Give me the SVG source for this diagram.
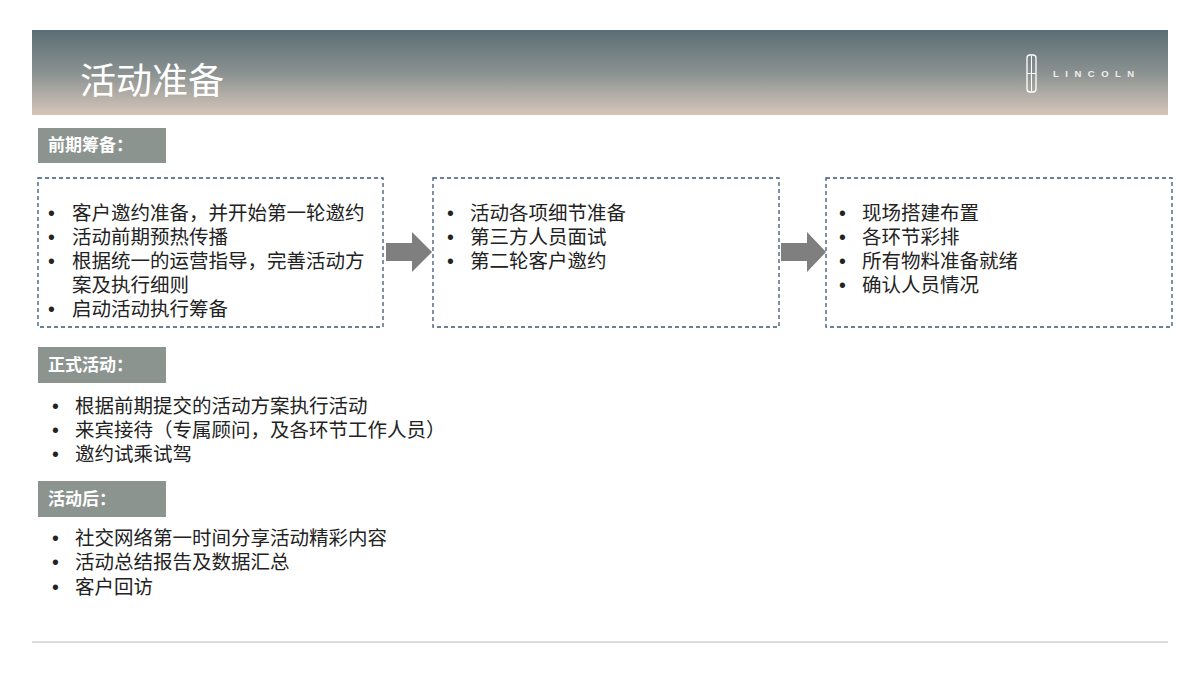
<svg xmlns="http://www.w3.org/2000/svg" width="1200" height="675" viewBox="0 0 1200 675">
<defs>
<linearGradient id="hd" x1="0" y1="0" x2="0" y2="1">
<stop offset="0" stop-color="#5b6e75"/><stop offset="0.5" stop-color="#8a9190"/><stop offset="1" stop-color="#d6c6ba"/>
</linearGradient>
<style>
text{font-family:"Liberation Sans","Noto Sans CJK SC",sans-serif}
.t{font-size:19.5px;fill:#222}
.lab{fill:#8c9490}
.lt{font-size:17px;font-weight:bold;fill:#fff}
.box{fill:#fff;stroke:#3d5575;stroke-width:1.3;stroke-dasharray:4 3}
.ar{fill:#7f7f7f}
</style>
</defs>
<rect width="1200" height="675" fill="#fff"/>
<g id="header">
<rect x="32" y="30" width="1136" height="85" fill="url(#hd)"/>
<text x="80" y="94" font-size="36" fill="#fff">活动准备</text>
<rect x="1027" y="55" width="9" height="37" rx="3" fill="none" stroke="#fff" stroke-width="1.3"/>
<line x1="1031.5" y1="56" x2="1031.5" y2="91" stroke="#fff" stroke-width="1"/>
<line x1="1027" y1="73.5" x2="1036" y2="73.5" stroke="#fff" stroke-width="1"/>
<text x="1053" y="77" font-size="9.5" fill="#eee" font-weight="bold" letter-spacing="6.5">LINCOLN</text>
</g>
<g id="label1"><rect class="lab" x="38" y="128" width="128" height="35"/><text class="lt" x="48" y="151">前期筹备：</text></g>
<g id="box1"><rect class="box" x="38" y="178" width="345" height="149"/>
<text class="t"><tspan x="48" y="220">•</tspan><tspan x="72" y="220">客户邀约准备，并开始第一轮邀约</tspan>
<tspan x="48" y="244">•</tspan><tspan x="72" y="244">活动前期预热传播</tspan>
<tspan x="48" y="268">•</tspan><tspan x="72" y="268">根据统一的运营指导，完善活动方</tspan>
<tspan x="72" y="292">案及执行细则</tspan>
<tspan x="48" y="316">•</tspan><tspan x="72" y="316">启动活动执行筹备</tspan></text></g>
<g id="box2"><rect class="box" x="433" y="178" width="346" height="149"/>
<text class="t"><tspan x="447" y="220">•</tspan><tspan x="470" y="220">活动各项细节准备</tspan>
<tspan x="447" y="244">•</tspan><tspan x="470" y="244">第三方人员面试</tspan>
<tspan x="447" y="268">•</tspan><tspan x="470" y="268">第二轮客户邀约</tspan></text></g>
<g id="box3"><rect class="box" x="826" y="178" width="346" height="149"/>
<text class="t"><tspan x="839" y="220">•</tspan><tspan x="862" y="220">现场搭建布置</tspan>
<tspan x="839" y="244">•</tspan><tspan x="862" y="244">各环节彩排</tspan>
<tspan x="839" y="268">•</tspan><tspan x="862" y="268">所有物料准备就绪</tspan>
<tspan x="839" y="292">•</tspan><tspan x="862" y="292">确认人员情况</tspan></text></g>
<g id="connectors">
<polygon class="ar" points="386,243 412,243 412,232 432,252 412,272 412,261 386,261"/>
<polygon class="ar" points="781,243 807,243 807,232 826,252 807,272 807,261 781,261"/>
</g>
<g id="label2"><rect class="lab" x="38" y="347" width="128" height="36"/><text class="lt" x="48" y="371">正式活动：</text></g>
<g id="list2"><text class="t"><tspan x="52" y="413">•</tspan><tspan x="75" y="413">根据前期提交的活动方案执行活动</tspan>
<tspan x="52" y="437">•</tspan><tspan x="75" y="437">来宾接待（专属顾问，及各环节工作人员）</tspan>
<tspan x="52" y="461">•</tspan><tspan x="75" y="461">邀约试乘试驾</tspan></text></g>
<g id="label3"><rect class="lab" x="38" y="481" width="128" height="36"/><text class="lt" x="48" y="505">活动后：</text></g>
<g id="list3"><text class="t"><tspan x="52" y="545">•</tspan><tspan x="75" y="545">社交网络第一时间分享活动精彩内容</tspan>
<tspan x="52" y="569">•</tspan><tspan x="75" y="569">活动总结报告及数据汇总</tspan>
<tspan x="52" y="594">•</tspan><tspan x="75" y="594">客户回访</tspan></text></g>
<line x1="32" y1="642" x2="1168" y2="642" stroke="#d0d0d0" stroke-width="1.5"/>
</svg>
